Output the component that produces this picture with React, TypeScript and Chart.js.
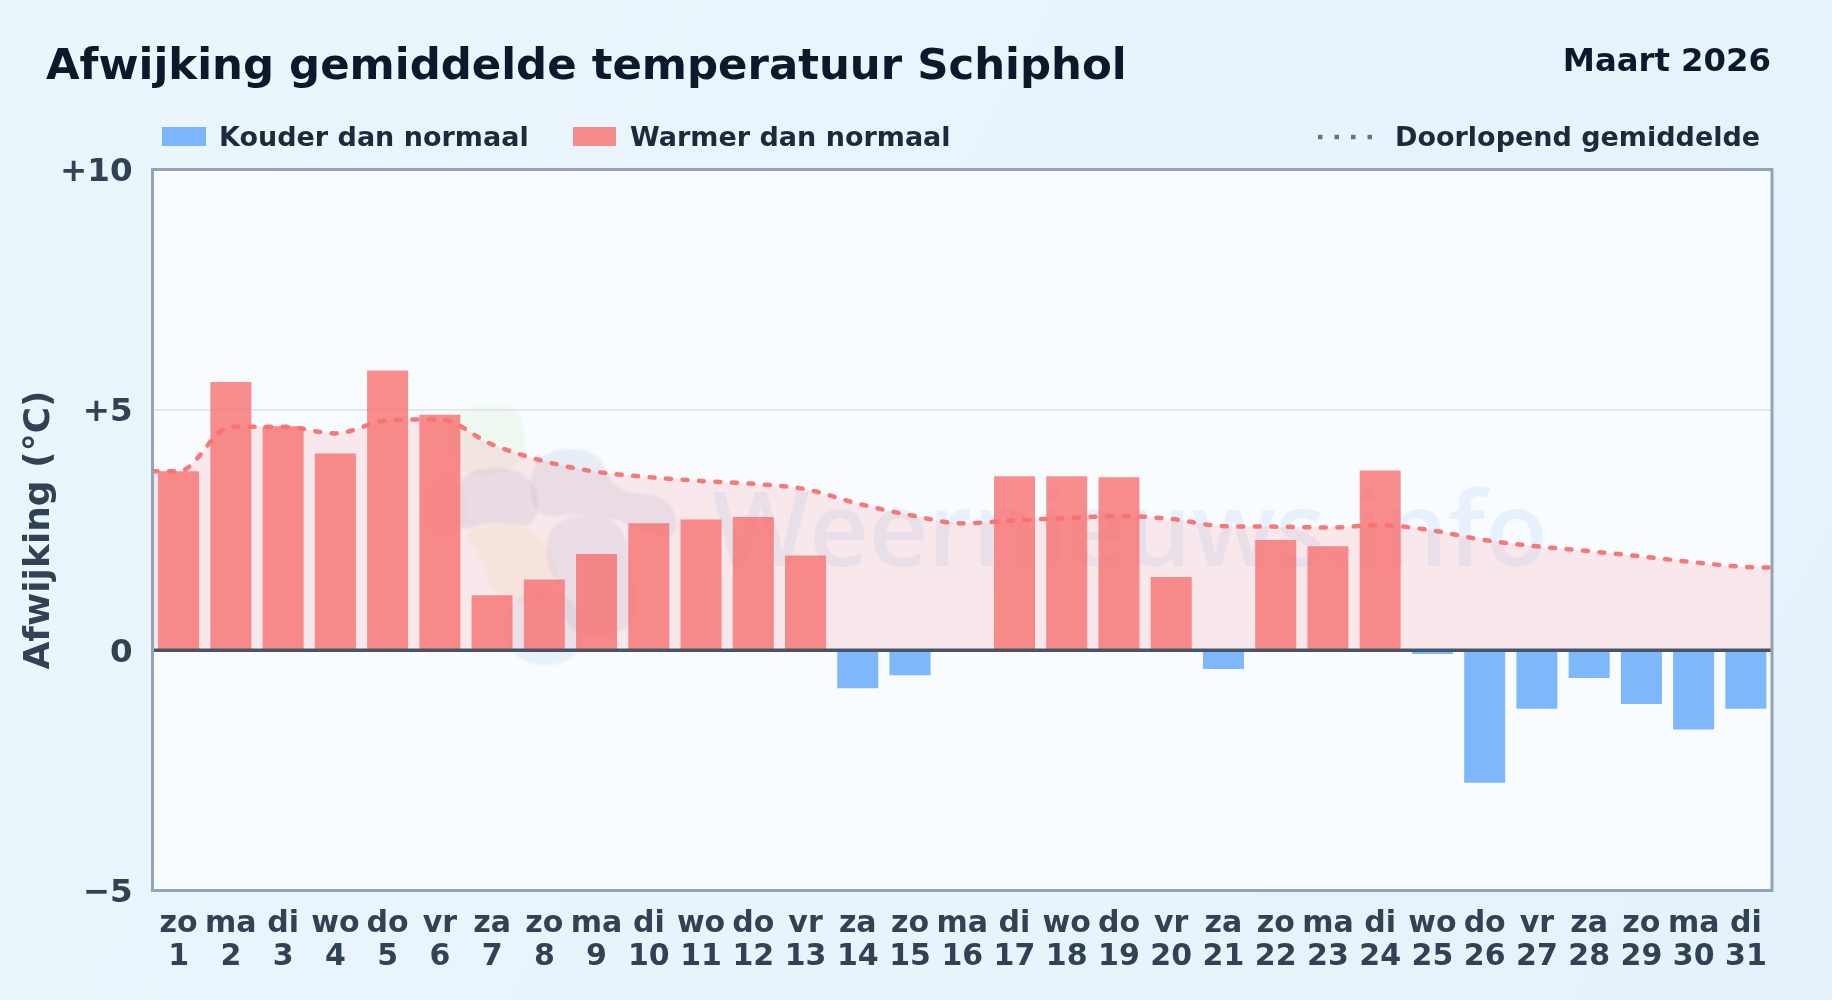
import React, { useEffect, useRef } from "react";
import { Chart, registerables } from "chart.js";

Chart.register(...registerables);

const weekdays = ["zo","ma","di","wo","do","vr","za","zo","ma","di","wo","do","vr","za","zo","ma","di","wo","do","vr","za","zo","ma","di","wo","do","vr","za","zo","ma","di"];
const days = ["1","2","3","4","5","6","7","8","9","10","11","12","13","14","15","16","17","18","19","20","21","22","23","24","25","26","27","28","29","30","31"];
const deviation = [3.72,5.58,4.66,4.09,5.82,4.9,1.14,1.47,2.0,2.64,2.72,2.77,1.97,-0.79,-0.52,0,3.62,3.62,3.6,1.52,-0.39,2.29,2.16,3.74,-0.08,-2.76,-1.22,-0.58,-1.12,-1.65,-1.22];
const runningX = [0.5,1,2,3,4,5,6,7,8,9,10,11,12,13,14,15,16,17,18,19,20,21,22,23,24,25,26,27,28,29,30,31,31.5];
const runningMean = [3.72,3.72,4.65,4.65,4.51,4.78,4.8,4.28,3.93,3.71,3.6,3.52,3.46,3.35,3.05,2.81,2.64,2.7,2.75,2.79,2.73,2.58,2.57,2.55,2.6,2.49,2.29,2.16,2.06,1.95,1.83,1.73,1.72];
const yTicks = [-5,0,5,10];

const FONT = '"DejaVu Sans", sans-serif';
const COLD = "rgba(96,165,250,0.8)";
const WARM = "rgba(248,113,113,0.8)";

function blob(ctx: CanvasRenderingContext2D, pts: number[][], color: string) {
  ctx.fillStyle = color;
  ctx.beginPath();
  const n = pts.length;
  const mid = (a: number[], b: number[]) => [(a[0] + b[0]) / 2, (a[1] + b[1]) / 2];
  const s = mid(pts[n - 1], pts[0]);
  ctx.moveTo(s[0], s[1]);
  for (let i = 0; i < n; i++) {
    const m = mid(pts[i], pts[(i + 1) % n]);
    ctx.quadraticCurveTo(pts[i][0], pts[i][1], m[0], m[1]);
  }
  ctx.closePath();
  ctx.fill();
}

const backdrop = {
  id: "backdrop",
  beforeDraw(chart: any) {
    const { ctx, width, height, chartArea: a, scales } = chart;
    // tick labels of the y axis sit slightly below their gridline
    scales.y.getLabelItems().forEach((it: any) => {
      it.options.translation = [it.options.translation[0], it.options.translation[1] + 3];
    });
    ctx.save();
    const g = ctx.createLinearGradient(0, 0, width, height);
    g.addColorStop(0, "#ebf5fc");
    g.addColorStop(1, "#e6f2fb");
    ctx.fillStyle = g;
    ctx.fillRect(0, 0, width, height);
    ctx.fillStyle = "#f8fcff";
    ctx.fillRect(a.left, a.top, a.right - a.left, a.bottom - a.top);
    // watermark logo
    ctx.filter = "blur(1px)";
    blob(ctx, [[455,405],[525,403],[525,470],[465,478],[445,450]], "rgba(190,230,140,0.12)");
    blob(ctx, [[425,478],[462,468],[470,535],[425,542]], "rgba(240,210,120,0.10)");
    blob(ctx, [[455,468],[535,468],[540,530],[490,520],[455,535]], "rgba(100,120,170,0.11)");
    blob(ctx, [[458,528],[535,522],[562,575],[545,605],[495,600],[480,555]], "rgba(240,200,110,0.10)");
    blob(ctx, [[532,450],[600,448],[612,492],[672,495],[680,545],[620,520],[585,512],[530,520]], "rgba(100,130,190,0.11)");
    blob(ctx, [[550,518],[620,512],[635,580],[635,635],[565,635],[565,590],[545,565]], "rgba(100,130,190,0.10)");
    blob(ctx, [[505,595],[578,590],[585,665],[508,665]], "rgba(100,150,210,0.10)");
    ctx.filter = "none";
    ctx.font = '600 103px "Open Sans", sans-serif';
    ctx.fillStyle = "rgba(80,150,240,0.10)";
    ctx.textAlign = "left";
    ctx.textBaseline = "alphabetic";
    ctx.fillText("Weernieuws.info", 712, 566);
    ctx.restore();
  },
};

const overlay = {
  id: "overlay",
  afterDraw(chart: any) {
    const { ctx, chartArea: a, scales } = chart;
    ctx.save();
    const zero = scales.y.getPixelForValue(0);
    ctx.strokeStyle = "#475569";
    ctx.lineWidth = 3.5;
    ctx.beginPath();
    ctx.moveTo(a.left, zero);
    ctx.lineTo(a.right, zero);
    ctx.stroke();
    ctx.strokeStyle = "#94a3b8";
    ctx.lineWidth = 3;
    ctx.strokeRect(a.left, a.top, a.right - a.left, a.bottom - a.top);

    ctx.textBaseline = "alphabetic";
    ctx.textAlign = "left";
    ctx.fillStyle = "#0f172a";
    ctx.font = `bold 43.4px ${FONT}`;
    ctx.fillText("Afwijking gemiddelde temperatuur Schiphol", 46, 79);
    ctx.textAlign = "right";
    ctx.font = `bold 32.3px ${FONT}`;
    ctx.fillText("Maart 2026", 1771, 71);

    ctx.textAlign = "left";
    ctx.fillStyle = "#1e293b";
    ctx.font = `bold 27px ${FONT}`;
    ctx.fillText("Kouder dan normaal", 219, 146);
    ctx.fillText("Warmer dan normaal", 630, 146);
    ctx.fillText("Doorlopend gemiddelde", 1395, 146);
    ctx.fillStyle = COLD;
    ctx.fillRect(162, 127, 44, 19);
    ctx.fillStyle = WARM;
    ctx.fillRect(573, 127, 43, 19);
    ctx.strokeStyle = "#64748b";
    ctx.lineWidth = 4.5;
    ctx.setLineDash([4.5, 12]);
    ctx.beginPath();
    ctx.moveTo(1318, 137);
    ctx.lineTo(1376, 137);
    ctx.stroke();
    ctx.restore();
  },
};

export default function App() {
  const ref = useRef<HTMLCanvasElement>(null);
  useEffect(() => {
    const chart = new Chart(ref.current!, {
      type: "bar",
      data: {
        labels: days,
        datasets: [
          {
            type: "line",
            label: "Doorlopend gemiddelde",
            data: runningX.map((x, i) => ({ x, y: runningMean[i] })),
            xAxisID: "xLine",
            borderColor: "rgba(248,113,113,0.95)",
            borderWidth: 4.5,
            borderDash: [5, 11.5],
            borderCapStyle: "round",
            backgroundColor: "rgba(248,113,113,0.14)",
            fill: "origin",
            pointRadius: 0,
            cubicInterpolationMode: "monotone",
            order: 2,
          },
          {
            type: "bar",
            label: "Afwijking",
            data: deviation,
            backgroundColor: deviation.map((v) => (v < 0 ? COLD : WARM)),
            borderWidth: 0,
            barPercentage: 0.785,
            categoryPercentage: 1,
            grouped: false,
            order: 1,
          },
        ],
      } as any,
      options: {
        responsive: false,
        animation: false,
        devicePixelRatio: 1,
        layout: { padding: { top: 169.5, right: 60, left: 0, bottom: 0 } },
        plugins: { legend: { display: false }, title: { display: false }, tooltip: { enabled: false } },
        scales: {
          x: {
            type: "category",
            offset: true,
            grid: { display: false },
            border: { display: false },
            afterFit(s: any) { s.height = 109.5; },
            ticks: {
              color: "#334155",
              font: { family: FONT, weight: "bold", size: 30, lineHeight: 1.1 },
              maxRotation: 0,
              autoSkip: false,
              padding: 9,
              callback: (_v: any, i: number) => [weekdays[i], days[i]],
            },
          },
          xLine: { type: "linear", display: false, min: 0.5, max: 31.5, offset: false },
          y: {
            type: "linear",
            min: -5,
            max: 10,
            afterBuildTicks(s: any) { s.ticks = yTicks.map((value) => ({ value })); },
            afterFit(s: any) { s.width = 152.5; },
            grid: {
              color: (c: any) => (c.tick && c.tick.value === 5 ? "#e2e8f0" : "transparent"),
              lineWidth: 2,
              drawTicks: false,
            },
            border: { display: false },
            ticks: {
              color: "#334155",
              font: { family: FONT, weight: "bold", size: 32.5 },
              padding: 20,
              callback: (v: any) => (v > 0 ? `+${v}` : v < 0 ? `\u2212${-v}` : "0"),
            },
            title: {
              display: true,
              text: "Afwijking (\u00b0C)",
              color: "#334155",
              font: { family: FONT, weight: "bold", size: 36 },
              padding: { top: 18, bottom: 0 },
            },
          },
        },
      },
      plugins: [backdrop, overlay],
    } as any);
    return () => chart.destroy();
  }, []);
  return (
    <div style={{ position: "fixed", left: 0, top: 0 }}>
      <canvas ref={ref} width={1832} height={1000} style={{ display: "block" }} />
    </div>
  );
}
